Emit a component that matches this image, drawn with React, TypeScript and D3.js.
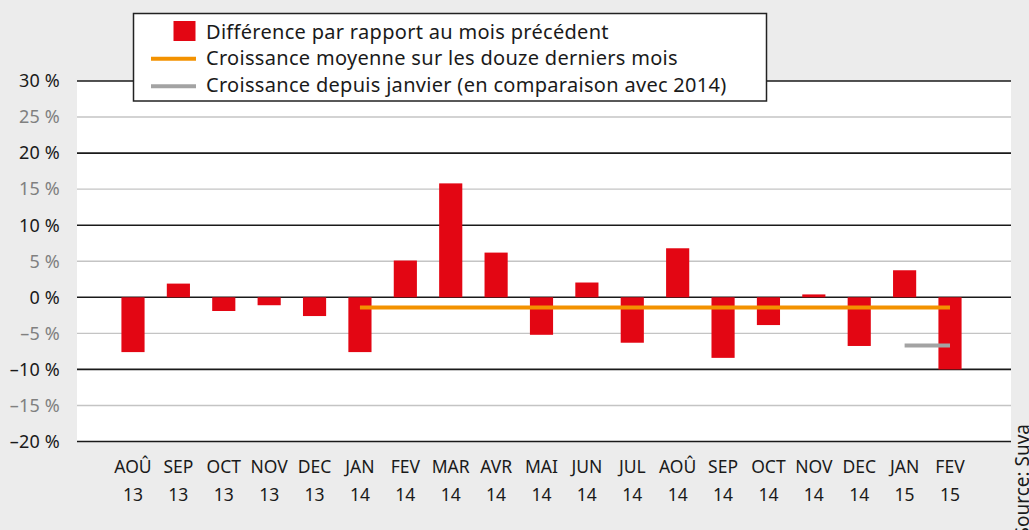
import React from "react";
import * as d3 from "d3";

const categories = ["AOÛ 13","SEP 13","OCT 13","NOV 13","DEC 13","JAN 14","FEV 14","MAR 14","AVR 14","MAI 14","JUN 14","JUL 14","AOÛ 14","SEP 14","OCT 14","NOV 14","DEC 14","JAN 15","FEV 15"];
const monthlyDiff = [-7.6, 1.9, -1.9, -1.1, -2.6, -7.6, 5.1, 15.8, 6.2, -5.2, 2.05, -6.3, 6.8, -8.4, -3.85, 0.4, -6.75, 3.75, -10.0];
const avgCategories = ["JAN 14","FEV 14","MAR 14","AVR 14","MAI 14","JUN 14","JUL 14","AOÛ 14","SEP 14","OCT 14","NOV 14","DEC 14","JAN 15","FEV 15"];
const avgValues = [-1.4,-1.4,-1.4,-1.4,-1.4,-1.4,-1.4,-1.4,-1.4,-1.4,-1.4,-1.4,-1.4,-1.4];
const ytdCategories = ["JAN 15","FEV 15"];
const ytdValues = [-6.7,-6.7];
const yTicks = [-20,-15,-10,-5,0,5,10,15,20,25,30];
const legendLabels = [
  "Différence par rapport au mois précédent",
  "Croissance moyenne sur les douze derniers mois",
  "Croissance depuis janvier (en comparaison avec 2014)",
];
const sourceText = "Source: Suva";

const W = 1029, H = 530;
const FONT = "'Noto Sans', 'Open Sans', sans-serif";
const RED = "#e30613";
const ORANGE = "#f39200";
const GREY = "#a3a3a3";

export default function App() {
  const plotLeft = 77, plotRight = 1011;
  const y = d3.scaleLinear().domain([-20, 30]).range([441.5, 81]);
  const x = d3.scaleBand<string>().domain(categories).range([110.3, 972.7]).paddingInner(0.49).paddingOuter(0.245);
  const cx = (c: string) => (x(c) as number) + x.bandwidth() / 2;
  const line = d3.line<[string, number]>().x(d => cx(d[0])).y(d => y(d[1]));
  const avgPts: [string, number][] = avgCategories.map((c, i) => [c, avgValues[i]]);
  const ytdPts: [string, number][] = ytdCategories.map((c, i) => [c, ytdValues[i]]);
  const fmt = (v: number) => (v < 0 ? "\u2013" + Math.abs(v) : String(v)) + " %";

  return (
    <svg width={W} height={H} style={{ position: "absolute", left: 0, top: 0, display: "block" }} fontFamily={FONT}>
      <rect x={0} y={0} width={W} height={H} fill="#ececec" />
      <rect x={plotLeft} y={y(30)} width={plotRight - plotLeft} height={y(-20) - y(30)} fill="#ffffff" />
      {yTicks.map(t => {
        const major = t % 10 === 0;
        return (
          <g key={t}>
            <line x1={plotLeft} x2={plotRight} y1={y(t)} y2={y(t)} stroke={major ? "#1a1a1a" : "#c4c4c4"} strokeWidth={major ? 1.6 : 1.4} />
            <text x={60} y={y(t) + 6.3} textAnchor="end" fontSize={18} letterSpacing={0.2} fill={major ? "#1a1a1a" : "#808080"}>{fmt(t)}</text>
          </g>
        );
      })}
      {categories.map((c, i) => {
        const v = monthlyDiff[i];
        return (
          <rect key={c} x={x(c)} width={x.bandwidth()} y={y(Math.max(0, v))} height={Math.abs(y(v) - y(0))} fill={RED} />
        );
      })}
      <path d={line(avgPts) || ""} stroke={ORANGE} strokeWidth={4} fill="none" />
      <path d={line(ytdPts) || ""} stroke={GREY} strokeWidth={4} fill="none" />
      {categories.map(c => {
        const [m, yr] = c.split(" ");
        return (
          <text key={c} x={cx(c)} textAnchor="middle" fontSize={17.5} fill="#1a1a1a">
            <tspan x={cx(c)} y={473}>{m}</tspan>
            <tspan x={cx(c)} y={501}>{yr}</tspan>
          </text>
        );
      })}
      <g>
        <rect x={133.5} y={13.5} width={633} height={87.5} fill="#ffffff" stroke="#222" strokeWidth={1.5} />
        <rect x={173.5} y={21} width={22} height={20} fill={RED} />
        <line x1={151} x2={196} y1={58.7} y2={58.7} stroke={ORANGE} strokeWidth={4} />
        <line x1={151} x2={196} y1={86.3} y2={86.3} stroke={GREY} strokeWidth={4} />
        {legendLabels.map((l, i) => (
          <text key={l} x={206} y={38.5 + i * 26.7} fontSize={20} letterSpacing={0.3} fill="#1a1a1a">{l}</text>
        ))}
      </g>
      <text transform={`translate(1029,424) rotate(-90)`} textAnchor="end" fontSize={19} fill="#1a1a1a">{sourceText}</text>
    </svg>
  );
}
